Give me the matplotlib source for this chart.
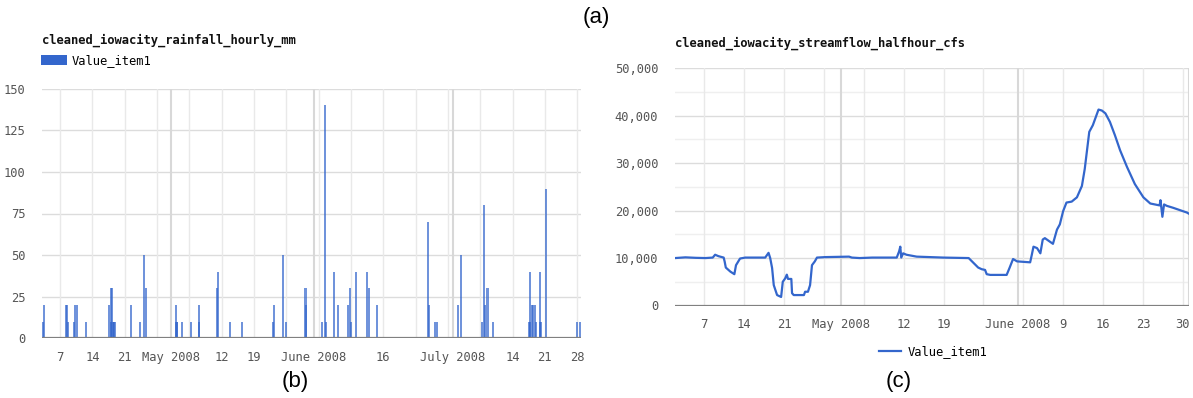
import matplotlib
matplotlib.use("Agg")
import matplotlib.pyplot as plt
import matplotlib.dates as mdates
import pandas as pd
from matplotlib.patches import Patch
from matplotlib.lines import Line2D

# ---- hourly rainfall, Iowa City (mm) ----
rain_time = [
    "2008-04-03 06:00", "2008-04-03 10:00", "2008-04-08 07:00", "2008-04-08 12:00",
    "2008-04-08 16:00", "2008-04-10 01:00", "2008-04-10 06:00", "2008-04-10 17:00",
    "2008-04-12 17:00", "2008-04-17 16:00", "2008-04-17 23:00", "2008-04-18 00:00",
    "2008-04-18 07:00", "2008-04-18 10:00", "2008-04-18 14:00", "2008-04-18 19:00",
    "2008-04-22 07:00", "2008-04-24 07:00", "2008-04-25 02:00", "2008-04-25 13:00",
    "2008-05-02 01:00", "2008-05-02 05:00", "2008-05-02 08:00", "2008-05-03 12:00",
    "2008-05-05 10:00", "2008-05-07 00:00", "2008-05-07 04:00", "2008-05-11 00:00",
    "2008-05-11 04:00", "2008-05-13 19:00", "2008-05-16 10:00", "2008-05-23 05:00",
    "2008-05-23 10:00", "2008-05-25 08:00", "2008-05-26 00:00", "2008-05-30 04:00",
    "2008-05-30 08:00", "2008-06-02 16:00", "2008-06-03 10:00", "2008-06-03 14:00",
    "2008-06-05 10:00", "2008-06-06 05:00", "2008-06-08 10:00", "2008-06-08 19:00",
    "2008-06-09 00:00", "2008-06-10 02:00", "2008-06-12 10:00", "2008-06-12 23:00",
    "2008-06-14 17:00", "2008-06-25 19:00", "2008-06-25 23:00", "2008-06-27 05:00",
    "2008-06-27 14:00", "2008-07-02 05:00", "2008-07-02 22:00", "2008-07-07 07:00",
    "2008-07-07 22:00", "2008-07-08 00:00", "2008-07-08 14:00", "2008-07-09 17:00",
    "2008-07-17 12:00", "2008-07-17 17:00", "2008-07-17 21:00", "2008-07-18 05:00",
    "2008-07-18 12:00", "2008-07-18 19:00", "2008-07-19 00:00", "2008-07-19 22:00",
    "2008-07-20 00:00", "2008-07-20 04:00", "2008-07-21 07:00", "2008-07-27 22:00",
    "2008-07-28 16:00",
]
rain_mm = [
    10, 20, 20, 20,
    10, 10, 20, 20,
    10, 20, 30, 10,
    30, 10, 10, 10,
    20, 10, 50, 30,
    20, 10, 10, 10,
    10, 20, 10, 30,
    40, 10, 10, 10,
    20, 50, 10, 30,
    20, 10, 140, 10,
    40, 20, 20, 30,
    10, 40, 40, 30,
    20, 70, 20, 10,
    10, 20, 50, 10,
    80, 20, 30, 10,
    10, 10, 40, 20,
    20, 20, 10, 10,
    40, 10, 90, 10,
    10,
]

# ---- half-hourly streamflow, Iowa City (cfs) ----
flow_time = [
    "2008-04-01 21:00", "2008-04-03 17:00", "2008-04-05 12:00", "2008-04-07 05:00",
    "2008-04-08 12:00", "2008-04-08 22:00", "2008-04-09 12:00", "2008-04-10 10:00",
    "2008-04-10 14:00", "2008-04-10 19:00", "2008-04-11 14:00", "2008-04-12 07:00",
    "2008-04-12 14:00", "2008-04-13 07:00", "2008-04-14 05:00", "2008-04-17 17:00",
    "2008-04-18 07:00", "2008-04-18 14:00", "2008-04-18 22:00", "2008-04-19 05:00",
    "2008-04-19 19:00", "2008-04-20 12:00", "2008-04-20 19:00", "2008-04-21 05:00",
    "2008-04-21 12:00", "2008-04-21 17:00", "2008-04-22 07:00", "2008-04-22 10:00",
    "2008-04-22 17:00", "2008-04-24 12:00", "2008-04-24 17:00", "2008-04-25 05:00",
    "2008-04-25 14:00", "2008-04-25 22:00", "2008-04-26 10:00", "2008-04-26 19:00",
    "2008-04-28 05:00", "2008-05-02 10:00", "2008-05-02 22:00", "2008-05-04 07:00",
    "2008-05-06 12:00", "2008-05-10 19:00", "2008-05-11 05:00", "2008-05-11 10:00",
    "2008-05-11 14:00", "2008-05-11 22:00", "2008-05-12 12:00", "2008-05-14 07:00",
    "2008-05-19 00:00", "2008-05-23 10:00", "2008-05-24 00:00", "2008-05-24 12:00",
    "2008-05-25 02:00", "2008-05-25 17:00", "2008-05-26 07:00", "2008-05-26 14:00",
    "2008-05-27 05:00", "2008-05-30 02:00", "2008-05-30 14:00", "2008-05-31 05:00",
    "2008-05-31 22:00", "2008-06-03 05:00", "2008-06-03 12:00", "2008-06-03 19:00",
    "2008-06-04 10:00", "2008-06-05 00:00", "2008-06-05 10:00", "2008-06-05 19:00",
    "2008-06-06 12:00", "2008-06-07 05:00", "2008-06-07 22:00", "2008-06-08 10:00",
    "2008-06-09 00:00", "2008-06-09 14:00", "2008-06-10 12:00", "2008-06-11 10:00",
    "2008-06-12 07:00", "2008-06-12 19:00", "2008-06-13 14:00", "2008-06-14 05:00",
    "2008-06-15 05:00", "2008-06-15 19:00", "2008-06-16 10:00", "2008-06-17 05:00",
    "2008-06-18 02:00", "2008-06-19 00:00", "2008-06-20 05:00", "2008-06-21 14:00",
    "2008-06-23 02:00", "2008-06-24 07:00", "2008-06-25 22:00", "2008-06-26 02:00",
    "2008-06-26 10:00", "2008-06-26 17:00", "2008-06-27 05:00", "2008-06-28 07:00",
    "2008-06-30 17:00", "2008-07-01 00:00",
]
flow_cfs = [
    10000, 10150, 10050, 10000,
    10100, 10700, 10400, 10100,
    9300, 8000, 7150, 6600,
    8500, 9900, 10100, 10100,
    11100, 10000, 7900, 4300,
    2200, 1800, 5000, 5700,
    6500, 5600, 5600, 2600,
    2200, 2200, 2900, 2900,
    4300, 8500, 9300, 10100,
    10200, 10300, 10100, 10000,
    10100, 10100, 11400, 12400,
    10100, 11000, 10700, 10300,
    10100, 10000, 9300, 8700,
    8000, 7650, 7500, 6600,
    6450, 6450, 7900, 9800,
    9300, 9100, 10700, 12400,
    12100, 11000, 13900, 14200,
    13600, 13000, 16000, 17100,
    19900, 21700, 21900, 22800,
    25200, 28800, 36600, 38000,
    41300, 41100, 40500, 38700,
    35900, 32700, 29200, 25600,
    22800, 21500, 21100, 22200,
    18700, 21300, 21000, 20600,
    19600, 19400,
]

rain_tick_dates = ["2008-04-07", "2008-04-14", "2008-04-21", "2008-05-01", "2008-05-12",
                   "2008-05-19", "2008-06-01", "2008-06-16", "2008-07-01", "2008-07-14",
                   "2008-07-21", "2008-07-28"]
rain_tick_labels = ["7", "14", "21", "May 2008", "12", "19", "June 2008", "16",
                    "July 2008", "14", "21", "28"]
flow_tick_dates = ["2008-04-07", "2008-04-14", "2008-04-21", "2008-05-01", "2008-05-12",
                   "2008-05-19", "2008-06-01", "2008-06-09", "2008-06-16", "2008-06-23",
                   "2008-06-30"]
flow_tick_labels = ["7", "14", "21", "May 2008", "12", "19", "June 2008", "9", "16",
                    "23", "30"]

rain_yticks = [0, 25, 50, 75, 100, 125, 150]
flow_yticks = [0, 10000, 20000, 30000, 40000, 50000]

BLUE = "#3366cc"
MONO = "DejaVu Sans Mono"
TICK_COLOR = "#555555"
FS = 8.7

W, H = 1193, 398
fig = plt.figure(figsize=(W / 100, H / 100), dpi=100)


def px_axes(x0, y_top, x1, y_bot):
    return fig.add_axes([x0 / W, 1 - y_bot / H, (x1 - x0) / W, (y_bot - y_top) / H])


def date_grid(ax, start, end):
    # weekly (Monday) lines plus darker month-boundary lines
    for d in pd.date_range(start.normalize(), end, freq="W-MON"):
        ax.axvline(mdates.date2num(d), color="#e9e9e9", lw=1.0, zorder=0)
    for d in pd.date_range(start.normalize(), end, freq="MS"):
        ax.axvline(mdates.date2num(d), color="#d8d8d8", lw=1.5, zorder=0)


def style_axes(ax, tick_dates, tick_labels):
    for s in ax.spines.values():
        s.set_visible(False)
    ax.axhline(0, color="#808080", lw=1.6, zorder=3)
    ax.set_xticks(mdates.date2num(pd.to_datetime(tick_dates)))
    ax.set_xticklabels(tick_labels)
    ax.tick_params(axis="both", length=0, labelsize=FS, labelcolor=TICK_COLOR)
    ax.tick_params(axis="x", pad=9)
    ax.tick_params(axis="y", pad=12)
    for lab in ax.get_xticklabels() + ax.get_yticklabels():
        lab.set_fontfamily(MONO)


# ---------- rainfall bars ----------
ax1 = px_axes(42, 88.7, 581, 338.3)
r_start = pd.Timestamp("2008-04-03 02:00")
r_end = pd.Timestamp("2008-07-28 20:00")
ax1.set_xlim(mdates.date2num(r_start), mdates.date2num(r_end))
ax1.set_ylim(0, 150)
for v in rain_yticks:
    ax1.axhline(v, color="#dcdcdc", lw=1.0, zorder=0)
date_grid(ax1, r_start, r_end)
ax1.bar(mdates.date2num(pd.to_datetime(rain_time)), rain_mm, width=0.45,
        color=BLUE, alpha=0.7, linewidth=0, zorder=2)
ax1.set_yticks(rain_yticks)
ax1.set_yticklabels([str(v) for v in rain_yticks])
style_axes(ax1, rain_tick_dates, rain_tick_labels)

fig.text(42 / W, 1 - 40 / H, "cleaned_iowacity_rainfall_hourly_mm", fontfamily=MONO,
         fontweight="bold", fontsize=FS, va="center", ha="left", color="#111111")
ax1.legend(handles=[Patch(facecolor=BLUE, edgecolor="none", label="Value_item1")],
           loc="center left", bbox_to_anchor=(41 / W, 1 - 60.5 / H),
           bbox_transform=fig.transFigure, frameon=False, borderpad=0, borderaxespad=0,
           handlelength=2.15, handleheight=0.9, handletextpad=0.4,
           prop={"family": MONO, "size": FS})

# ---------- streamflow line ----------
ax2 = px_axes(675, 68.3, 1188.5, 305.5)
f_start = pd.Timestamp("2008-04-01 21:00")
f_end = pd.Timestamp("2008-07-01 00:00")
ax2.set_xlim(mdates.date2num(f_start), mdates.date2num(f_end))
ax2.set_ylim(0, 50000)
for v in range(0, 50001, 5000):
    ax2.axhline(v, color="#dcdcdc" if v % 10000 == 0 else "#efefef", lw=1.0, zorder=0)
date_grid(ax2, f_start, f_end)
ax2.plot(mdates.date2num(pd.to_datetime(flow_time)), flow_cfs, color=BLUE, lw=1.6,
         zorder=4, solid_joinstyle="round")
ax2.set_yticks(flow_yticks)
ax2.set_yticklabels([f"{v:,}" for v in flow_yticks])
style_axes(ax2, flow_tick_dates, flow_tick_labels)

fig.text(675 / W, 1 - 43 / H, "cleaned_iowacity_streamflow_halfhour_cfs", fontfamily=MONO,
         fontweight="bold", fontsize=FS, va="center", ha="left", color="#111111")
ax2.legend(handles=[Line2D([], [], color=BLUE, lw=1.6, label="Value_item1")],
           loc="center left", bbox_to_anchor=(879 / W, 1 - 352 / H),
           bbox_transform=fig.transFigure, frameon=False, borderpad=0, borderaxespad=0,
           handlelength=1.85, handletextpad=0.5, prop={"family": MONO, "size": FS})

# ---------- panel captions ----------
cap = dict(fontfamily="Liberation Sans", fontsize=16, ha="center", va="center",
           color="black")
fig.text(596 / W, 1 - 17 / H, "(a)", **cap)
fig.text(295 / W, 1 - 381 / H, "(b)", **cap)
fig.text(899 / W, 1 - 381 / H, "(c)", **cap)

fig.savefig("out.png", dpi=100, facecolor="white")
